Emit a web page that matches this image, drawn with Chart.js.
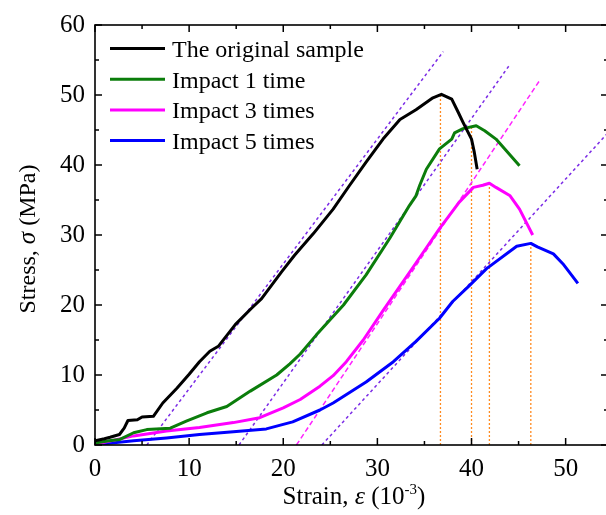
<!DOCTYPE html>
<html>
<head>
<meta charset="utf-8">
<script src="https://cdn.jsdelivr.net/npm/chart.js@4.4.1/dist/chart.umd.min.js"></script>
<style>
  html, body { margin: 0; padding: 0; background: #fff; overflow: hidden; }
  #wrap { width: 606px; height: 515px; overflow: hidden; position: relative; }
  #wrap canvas { position: absolute; left: 0; top: 0; }
</style>
</head>
<body>
<div id="wrap"><canvas id="c" width="612" height="515" style="width:612px;height:515px"></canvas></div>
<script>
// valores (strain em 10^-3, stress em MPa)
const seriesNames = ['The original sample', 'Impact 1 time', 'Impact 3 times', 'Impact 5 times'];
const seriesColors = ['#000000', '#0b7d0b', '#ff00ff', '#0000ff'];

const origX = [0, 1.0, 1.6, 2.6, 3.1, 3.5, 4.5, 5.0, 6.2, 7.2, 8.7, 10.0, 11.1, 12.2, 13.1, 14.9, 16.6, 17.7, 19.8, 21.2, 23.2, 25.3, 27.0, 28.8, 30.6, 32.4, 34.1, 35.9, 36.8, 37.9, 38.6, 39.1, 40.0, 40.3, 40.6];
const origY = [0.6, 0.9, 1.1, 1.5, 2.4, 3.5, 3.6, 4.0, 4.1, 6.0, 8.1, 10.1, 11.9, 13.4, 14.1, 17.2, 19.5, 20.9, 24.7, 27.1, 30.2, 33.7, 37.0, 40.4, 43.7, 46.5, 47.9, 49.6, 50.1, 49.4, 47.5, 46.1, 43.7, 41.8, 39.4];

const imp1X = [0, 1.5, 2.65, 4.1, 5.5, 6.5, 8.0, 9.7, 11.9, 14.0, 16.5, 19.3, 20.7, 21.8, 23.5, 26.4, 28.8, 31.3, 33.4, 34.1, 34.5, 35.2, 36.6, 37.9, 38.2, 39.1, 40.5, 41.4, 42.6, 45.1];
const imp1Y = [0.3, 0.6, 0.8, 1.75, 2.2, 2.3, 2.4, 3.4, 4.6, 5.5, 7.7, 10.0, 11.6, 13.0, 15.7, 20.0, 24.3, 29.5, 34.2, 35.6, 37.1, 39.4, 42.3, 43.7, 44.6, 45.2, 45.6, 44.9, 43.7, 39.9];

const imp3X = [0, 4.1, 7.6, 11.1, 14.7, 17.5, 20.0, 21.8, 23.9, 25.3, 26.7, 28.5, 30.6, 34.1, 36.6, 38.7, 40.2, 41.2, 41.9, 42.6, 44.1, 45.1, 46.5];
const imp3Y = [0.1, 1.3, 2.0, 2.5, 3.2, 3.9, 5.3, 6.5, 8.4, 9.9, 11.9, 15.0, 19.2, 26.0, 30.9, 34.7, 36.8, 37.1, 37.4, 36.8, 35.6, 33.7, 30.0];

const imp5X = [0, 4.1, 7.6, 11.1, 14.7, 18.2, 21.0, 23.9, 25.3, 28.8, 31.7, 34.1, 36.6, 38.0, 39.8, 41.6, 44.8, 46.3, 47.0, 48.7, 49.7, 51.3];
const imp5Y = [0.05, 0.6, 1.0, 1.5, 1.9, 2.3, 3.3, 5.0, 6.0, 9.0, 11.9, 14.8, 18.1, 20.5, 22.8, 25.2, 28.4, 28.8, 28.3, 27.3, 25.9, 23.1];

// retas tracejadas (inicio e fim)
const guideX = [[5.5, 37.0], [15.3, 44.05], [21.4, 47.3], [24.1, 54.5]];
const guideY = [[0, 56.2], [0, 54.3], [0, 52.2], [0, 44.6]];
const guideColors = ['#7b2be6', '#7b2be6', '#ff22ff', '#7b2be6'];

// linhas verticais pontilhadas nos picos
const peakX = [36.7, 40.0, 41.9, 46.3];
const peakY = [50.0, 45.6, 37.5, 28.7];

const xTicks = [0, 10, 20, 30, 40, 50];
const yTicks = [0, 10, 20, 30, 40, 50, 60];
const xMin = 0, xMax = 54.5, yMin = 0, yMax = 60;

const FONT = "'Liberation Serif', 'Times New Roman', serif";

function pts(xs, ys) {
  return xs.map((x, i) => ({ x, y: ys[i] }));
}

const curves = [[origX, origY], [imp1X, imp1Y], [imp3X, imp3Y], [imp5X, imp5Y]].map((s, i) => ({
  label: seriesNames[i],
  data: pts(s[0], s[1]),
  borderColor: seriesColors[i],
  borderWidth: 3,
  pointRadius: 0,
  tension: 0,
  borderJoinStyle: 'round'
}));

const guides = guideX.map((gx, i) => ({
  label: 'guide' + i,
  data: pts(gx, guideY[i]),
  borderColor: guideColors[i],
  borderWidth: 1.5,
  borderDash: i === 2 ? [5, 3] : [3, 3],
  pointRadius: 0,
  tension: 0
}));

const peaks = peakX.map((px, i) => ({
  label: 'peak' + i,
  data: [{ x: px, y: 0 }, { x: px, y: peakY[i] }],
  borderColor: '#ff8a1f',
  borderWidth: 1.3,
  borderDash: [2, 2],
  pointRadius: 0
}));

// moldura com ticks para dentro (maiores e menores)
const frameTicks = {
  id: 'frameTicks',
  afterDraw(chart) {
    const { ctx, chartArea: a, scales: { x, y } } = chart;
    ctx.save();
    ctx.strokeStyle = '#000';
    ctx.lineWidth = 1.6;
    ctx.strokeRect(a.left, a.top, a.right - a.left, a.bottom - a.top);
    ctx.lineWidth = 1.5;
    ctx.beginPath();
    for (let v = xMin; v <= xMax; v += 5) {
      const p = x.getPixelForValue(v);
      const len = v % 10 === 0 ? 7 : 4;
      ctx.moveTo(p, a.bottom); ctx.lineTo(p, a.bottom - len);
      ctx.moveTo(p, a.top); ctx.lineTo(p, a.top + len);
    }
    for (let v = yMin; v <= yMax; v += 5) {
      const p = y.getPixelForValue(v);
      const len = v % 10 === 0 ? 7 : 4;
      ctx.moveTo(a.left, p); ctx.lineTo(a.left + len, p);
      ctx.moveTo(a.right, p); ctx.lineTo(a.right - len, p);
    }
    ctx.stroke();
    ctx.restore();
  }
};

// desenha pedaços de texto com estilos diferentes numa linha
function drawParts(ctx, parts, cx, cy) {
  let total = 0;
  parts.forEach(p => { ctx.font = p.font; p.w = ctx.measureText(p.t).width; total += p.w; });
  let x = cx - total / 2;
  parts.forEach(p => {
    ctx.font = p.font;
    ctx.fillText(p.t, x, cy - (p.dy || 0));
    x += p.w;
  });
}

const axisTitles = {
  id: 'axisTitles',
  afterDraw(chart) {
    const { ctx, chartArea: a } = chart;
    ctx.save();
    ctx.fillStyle = '#000';
    ctx.textBaseline = 'alphabetic';
    ctx.textAlign = 'left';
    const n = '25px ' + FONT, it = 'italic 26px ' + FONT, sup = '15px ' + FONT;
    drawParts(ctx, [
      { t: 'Strain, ', font: n },
      { t: 'ε', font: it },
      { t: ' (10', font: n },
      { t: '-3', font: sup, dy: 10 },
      { t: ')', font: n }
    ], 354, 504);
    const n2 = '24px ' + FONT, it2 = 'italic 25px ' + FONT;
    ctx.translate(35, (a.top + a.bottom) / 2 + 4);
    ctx.rotate(-Math.PI / 2);
    drawParts(ctx, [
      { t: 'Stress, ', font: n2 },
      { t: 'σ', font: it2 },
      { t: ' (MPa)', font: n2 }
    ], 0, 0);
    ctx.restore();
  }
};

const legendBox = {
  id: 'legendBox',
  afterDraw(chart) {
    const { ctx } = chart;
    ctx.save();
    ctx.font = '24px ' + FONT;
    ctx.textBaseline = 'alphabetic';
    ctx.textAlign = 'left';
    seriesNames.forEach((name, i) => {
      const yy = 48.5 + i * 30.7;
      ctx.strokeStyle = seriesColors[i];
      ctx.lineWidth = 3;
      ctx.beginPath();
      ctx.moveTo(110, yy); ctx.lineTo(165, yy);
      ctx.stroke();
      ctx.fillStyle = '#000';
      ctx.fillText(name, 172, yy + 8.5);
    });
    ctx.restore();
  }
};

new Chart(document.getElementById('c'), {
  type: 'line',
  data: { datasets: [...curves, ...guides, ...peaks] },
  options: {
    responsive: false,
    animation: false,
    layout: { padding: { top: 22.5, right: 4, left: 0, bottom: 0 } },
    plugins: { legend: { display: false }, tooltip: { enabled: false } },
    scales: {
      x: {
        type: 'linear', min: xMin, max: xMax,
        afterFit: s => { s.height = 70; },
        grid: { display: false, drawTicks: false },
        border: { display: false },
        afterBuildTicks: s => { s.ticks = xTicks.map(v => ({ value: v })); },
        ticks: { font: { family: FONT, size: 25 }, color: '#000', padding: 9, maxRotation: 0, autoSkip: false }
      },
      y: {
        type: 'linear', min: yMin, max: yMax,
        afterFit: s => { s.width = 95; },
        grid: { display: false, drawTicks: false },
        border: { display: false },
        afterBuildTicks: s => { s.ticks = yTicks.map(v => ({ value: v })); },
        ticks: { font: { family: FONT, size: 25 }, color: '#000', padding: 10, autoSkip: false }
      }
    }
  },
  plugins: [frameTicks, axisTitles, legendBox]
});
</script>
</body>
</html>
